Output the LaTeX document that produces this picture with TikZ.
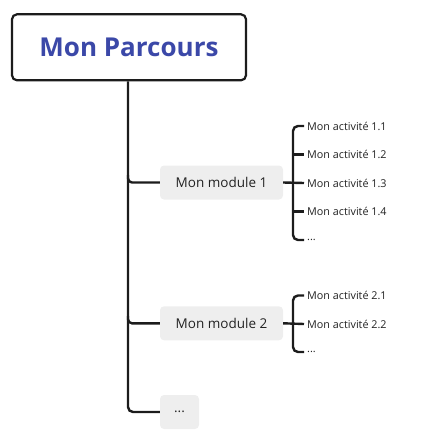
\documentclass[tikz,border=0pt]{standalone}
\usepackage{fontspec}
\setmainfont{Open Sans}
\definecolor{titleblue}{HTML}{3B48A8}
\definecolor{linec}{HTML}{1C1C1C}
\definecolor{modfill}{HTML}{EEEEEE}
\definecolor{txt}{HTML}{222222}
\begin{document}
\begin{tikzpicture}[x=1pt,y=-1pt,
  rootbox/.style={draw=linec,line width=2.2pt,rounded corners=5pt,minimum width=234pt,minimum height=66pt,inner sep=0pt,fill=white,
    font=\fontsize{26}{30}\selectfont\bfseries,text=titleblue},
  modbox/.style={fill=modfill,rounded corners=4pt,minimum height=34pt,inner sep=0pt,text=txt,
    font=\fontsize{13.5}{15}\selectfont},
  act/.style={anchor=west,inner xsep=3pt,inner ysep=1pt,text=txt,font=\fontsize{10.8}{12}\selectfont},
  conn/.style={draw=linec,line width=2.4pt},
]
\useasboundingbox (0,0) rectangle (427,445);
\node[rootbox] (root) at (129,47.3) {Mon Parcours};
\node[modbox,minimum width=123pt] (m1) at (221.5,182.5) {Mon module 1};
\node[modbox,minimum width=123pt] (m2) at (221.5,323.3) {Mon module 2};
\node[modbox,minimum width=39pt] (m3) at (179.5,412) {...};
% activities module 1
\node[act] (a11) at (304,126) {Mon activité 1.1};
\node[act] (a12) at (304,154.5) {Mon activité 1.2};
\node[act] (a13) at (304,183) {Mon activité 1.3};
\node[act] (a14) at (304,211.5) {Mon activité 1.4};
\node[act] (a15) at (304,240) {...};
% activities module 2
\node[act] (a21) at (304,295.5) {Mon activité 2.1};
\node[act] (a22) at (304,324) {Mon activité 2.2};
\node[act] (a23) at (304,352) {...};
\coordinate (tx) at (128,0);
\coordinate (k1) at (293,240);
\coordinate (k2) at (293,352);
\coordinate (j1) at (128,175);
\coordinate (j2) at (128,316);
% trunk
\draw[conn,rounded corners=5pt] (root.south -| tx) |- (m3.west);
\draw[conn,rounded corners=4pt] (j1) |- (m1.west);
\draw[conn,rounded corners=4pt] (j2) |- (m2.west);
% brackets module 1
\draw[conn,rounded corners=5pt] (a11.west) -| (k1) -- (a15.west);
\draw[conn] (a12.west -| k1) -- (a12.west);
\draw[conn] (a14.west -| k1) -- (a14.west);
\draw[conn] (m1.east) -- (a13.west);
% brackets module 2
\draw[conn,rounded corners=5pt] (a21.west) -| (k2) -- (a23.west);
\draw[conn] (m2.east) -- (a22.west);
\end{tikzpicture}
\end{document}
